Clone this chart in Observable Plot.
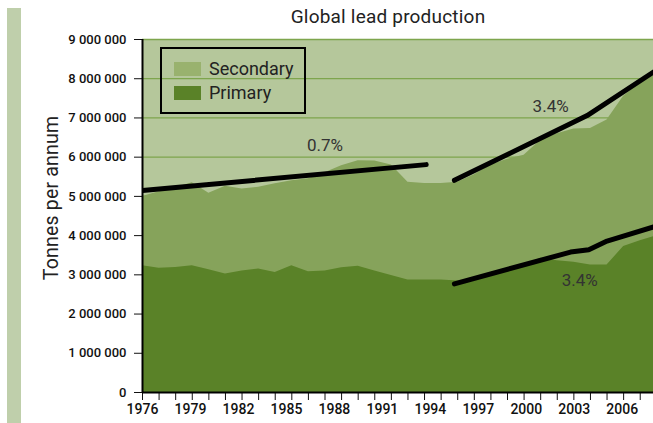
<!DOCTYPE html>
<html>
<head>
<meta charset="utf-8">
<script src="https://cdn.jsdelivr.net/npm/d3@7"></script>
<script src="https://cdn.jsdelivr.net/npm/@observablehq/plot@0.6"></script>
<style>
  html, body { margin: 0; padding: 0; background: #fff; }
  #wrap { position: relative; width: 653px; height: 423px; overflow: hidden; font-family: Roboto, "DejaVu Sans", sans-serif; }
  #bar { position: absolute; left: 7px; top: 8px; width: 14px; height: 415px; background: #bfcfab; }
  #title { position: absolute; left: 0; width: 776px; top: 5px; text-align: center; font-size: 19px; font-weight: 400; letter-spacing: 0.2px; color: #222; }
  #ylabel { position: absolute; left: 51px; top: 198px; transform: translate(-50%, -50%) rotate(-90deg); white-space: nowrap; font-size: 19.5px; letter-spacing: 0.2px; color: #222; }
  #legend { position: absolute; left: 160px; top: 47px; width: 142px; height: 63px; border: 2px solid #000; }
  .item { position: absolute; left: 12px; display: flex; align-items: center; font-size: 18px; color: #222; }
  .sw { width: 27px; height: 14px; margin-right: 8px; }
  #plot { position: absolute; left: 0; top: 0; }
</style>
</head>
<body>
<div id="wrap">
  <div id="bar"></div>
  <div id="plot"></div>
  <div id="title">Global lead production</div>
  <div id="ylabel">Tonnes per annum</div>
  <div id="legend">
    <div class="item" style="top:9px"><div class="sw" style="background:#99b26e"></div>Secondary</div>
    <div class="item" style="top:33px"><div class="sw" style="background:#5a8228"></div>Primary</div>
  </div>
</div>
<script>
// Data (millions of tonnes per annum)
const years = [1976,1977,1978,1979,1980,1981,1982,1983,1984,1985,1986,1987,1988,1989,1990,1991,
               1992,1993,1994,1995,1996,1997,1998,1999,2000,2001,2002,2003,2004,2005,2006,2007];
const primary = [3.23,3.17,3.19,3.23,3.13,3.02,3.10,3.15,3.06,3.23,3.08,3.10,3.18,3.22,3.10,2.98,
                 2.87,2.87,2.87,2.84,2.84,2.98,3.12,3.25,3.42,3.36,3.32,3.25,3.25,3.72,3.87,4.00];
const total = [5.00,5.12,5.22,5.35,5.08,5.26,5.19,5.23,5.32,5.40,5.45,5.60,5.78,5.91,5.90,5.80,
               5.36,5.33,5.33,5.36,5.55,5.80,5.95,6.05,6.43,6.60,6.72,6.73,6.95,7.55,7.90,8.15];

// Trend lines
const trend1Years = [1976, 1993.1];
const trend1Values = [5.15, 5.81];
const trend2Years = [1994.8, 2002.8, 2006.8];
const trend2Values = [5.41, 7.06, 8.17];
const trend3Years = [1994.8, 2001.8, 2002.9, 2004.0, 2006.8];
const trend3Values = [2.77, 3.58, 3.64, 3.86, 4.22];

// Growth annotations
const noteText = ["0.7%", "3.4%", "3.4%"];
const noteYears = [1987.0, 2000.6, 2002.35];
const noteValues = [6.29, 7.28, 2.85];

const yTicks = [0,1,2,3,4,5,6,7,8,9].map(d => d * 1e6);
const xTickLabels = [1976,1979,1982,1985,1988,1991,1994,1997,2000,2003,2006];

const rows = years.map((y, i) => ({year: y, primary: primary[i] * 1e6, total: total[i] * 1e6}));
const tr = (ys, vs) => ys.map((y, i) => ({year: y, v: vs[i] * 1e6}));
const notes = noteText.map((t, i) => ({year: noteYears[i], v: noteValues[i] * 1e6, text: t}));
// the source spaces its year labels slightly tighter than its year ticks
const labelPos = xTickLabels.map(y => ({year: y - (y - 1976) * (0.6 / 16.6), text: String(y)}));

const fmt = d3.formatLocale({decimal: ".", thousands: "\u2009", grouping: [3], currency: ["", ""]}).format(",");
const fmtY = d => fmt(d).replace(/\u2009/g, " ");

const chart = Plot.plot({
  width: 653,
  height: 423,
  marginTop: 39,
  marginBottom: 31,
  marginLeft: 142,
  marginRight: 0,
  style: {fontFamily: "Roboto, sans-serif", fontSize: "13px", fontWeight: 500, color: "#111", background: "transparent", overflow: "visible"},
  x: {domain: [1976, 2006.8], ticks: years, tickSize: 8, tickFormat: () => "", label: null},
  y: {domain: [0, 9e6], ticks: yTicks, tickSize: 8, tickPadding: 8, tickFormat: fmtY, label: null},
  marks: [
    Plot.frame({fill: "#b5c79b", stroke: null}),
    Plot.ruleY(yTicks.slice(1), {stroke: "#7ea54d", strokeWidth: 1.3}),
    Plot.areaY(rows, {x: "year", y1: 0, y2: "total", fill: "#86a35b", clip: true}),
    Plot.areaY(rows, {x: "year", y1: 0, y2: "primary", fill: "#5a8228", clip: true}),
    Plot.line(tr(trend1Years, trend1Values), {x: "year", y: "v", stroke: "#000", strokeWidth: 5, clip: true}),
    Plot.line(tr(trend2Years, trend2Values), {x: "year", y: "v", stroke: "#000", strokeWidth: 5, strokeLinejoin: "miter", clip: true}),
    Plot.line(tr(trend3Years, trend3Values), {x: "year", y: "v", stroke: "#000", strokeWidth: 5, strokeLinejoin: "miter", clip: true}),
    Plot.text(notes, {x: "year", y: "v", text: "text", fill: "#333", fontSize: 17, fontWeight: 400}),
    Plot.text(labelPos, {x: "year", text: "text", frameAnchor: "bottom", dy: 21, fill: "#111", fontSize: 14, fontWeight: 500}),
    Plot.ruleX([1976], {stroke: "#000", strokeWidth: 2}),
    Plot.ruleY([0], {stroke: "#000", strokeWidth: 2})
  ]
});
document.getElementById("plot").appendChild(chart);
</script>
</body>
</html>
